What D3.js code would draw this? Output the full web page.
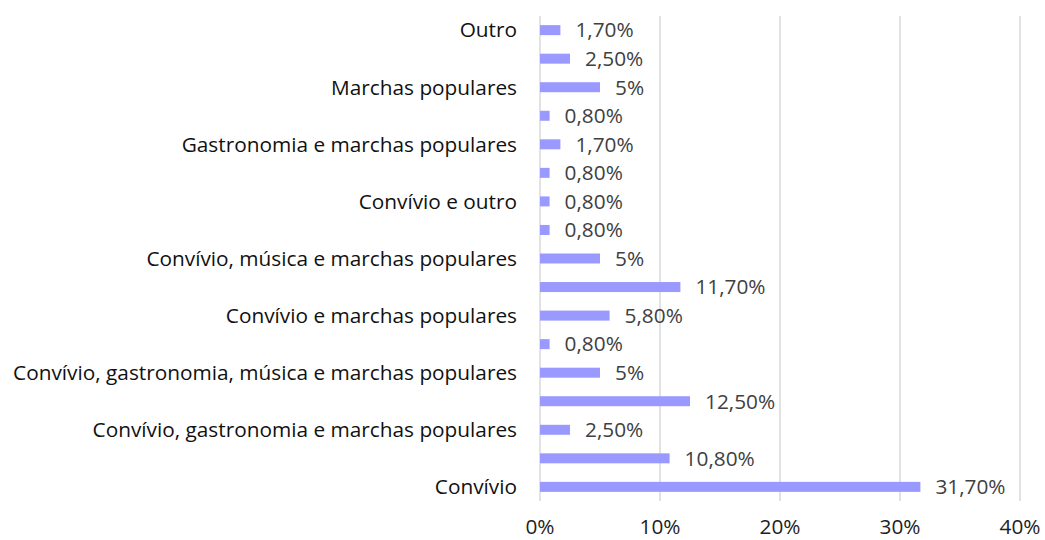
<!DOCTYPE html>
<html>
<head>
<meta charset="utf-8">
<script src="https://cdn.jsdelivr.net/npm/d3@7"></script>
<style>
  body { margin: 0; background: #fff; }
  text { font-family: "Open Sans", sans-serif; }
</style>
</head>
<body>
<div id="chart"></div>
<script>
// bottom to top, as in the picture; empty names = labels Excel skipped
const categories = [
  'Convívio', '', 'Convívio, gastronomia e marchas populares', '',
  'Convívio, gastronomia, música e marchas populares', '', 'Convívio e marchas populares', '',
  'Convívio, música e marchas populares', '', 'Convívio e outro', '',
  'Gastronomia e marchas populares', '', 'Marchas populares', '', 'Outro'
];
const values = [31.7, 10.8, 2.5, 12.5, 5, 0.8, 5.8, 11.7, 5, 0.8, 0.8, 0.8, 1.7, 0.8, 5, 2.5, 1.7];
const xTicks = [0, 10, 20, 30, 40];

const width = 1045;
const height = 540;
const margin = { top: 16, right: 25, bottom: 39, left: 540 };
const fontSize = 20.8;

const fmt = v => String(Number.isInteger(v) ? v : v.toFixed(2)).replace('.', ',') + '%';

const svg = d3.select('#chart').append('svg')
  .attr('width', width)
  .attr('height', height);

const x = d3.scaleLinear()
  .domain([0, 40])
  .range([margin.left, width - margin.right]);

const y = d3.scaleBand()
  .domain(d3.range(values.length))
  .range([height - margin.bottom, margin.top])
  .paddingInner(0.65)
  .paddingOuter(0.32);

// gridlines
svg.append('g')
  .selectAll('line')
  .data(xTicks)
  .enter()
  .append('line')
    .attr('x1', d => x(d))
    .attr('x2', d => x(d))
    .attr('y1', margin.top)
    .attr('y2', height - margin.bottom)
    .attr('stroke', '#d9d9d9')
    .attr('stroke-width', 1.5);

// bars
svg.append('g')
  .selectAll('rect')
  .data(values)
  .enter()
  .append('rect')
    .attr('x', x(0))
    .attr('y', (d, i) => y(i))
    .attr('width', d => x(d) - x(0))
    .attr('height', y.bandwidth())
    .attr('fill', '#9999ff');

// value labels
svg.append('g')
  .selectAll('text')
  .data(values)
  .enter()
  .append('text')
    .attr('x', d => x(d) + 15)
    .attr('y', (d, i) => y(i) + y.bandwidth() / 2)
    .attr('dy', '0.35em')
    .attr('font-size', fontSize)
    .attr('fill', '#404040')
    .text(d => fmt(d));

// category labels
svg.append('g')
  .selectAll('text')
  .data(categories)
  .enter()
  .append('text')
    .attr('x', margin.left - 23)
    .attr('y', (d, i) => y(i) + y.bandwidth() / 2)
    .attr('dy', '0.35em')
    .attr('text-anchor', 'end')
    .attr('font-size', fontSize)
    .attr('fill', '#111')
    .text(d => d);

// x tick labels
svg.append('g')
  .selectAll('text')
  .data(xTicks)
  .enter()
  .append('text')
    .attr('x', d => x(d))
    .attr('y', 527)
    .attr('dy', '0.35em')
    .attr('text-anchor', 'middle')
    .attr('font-size', fontSize)
    .attr('fill', '#222')
    .text(d => d + '%');
</script>
</body>
</html>
